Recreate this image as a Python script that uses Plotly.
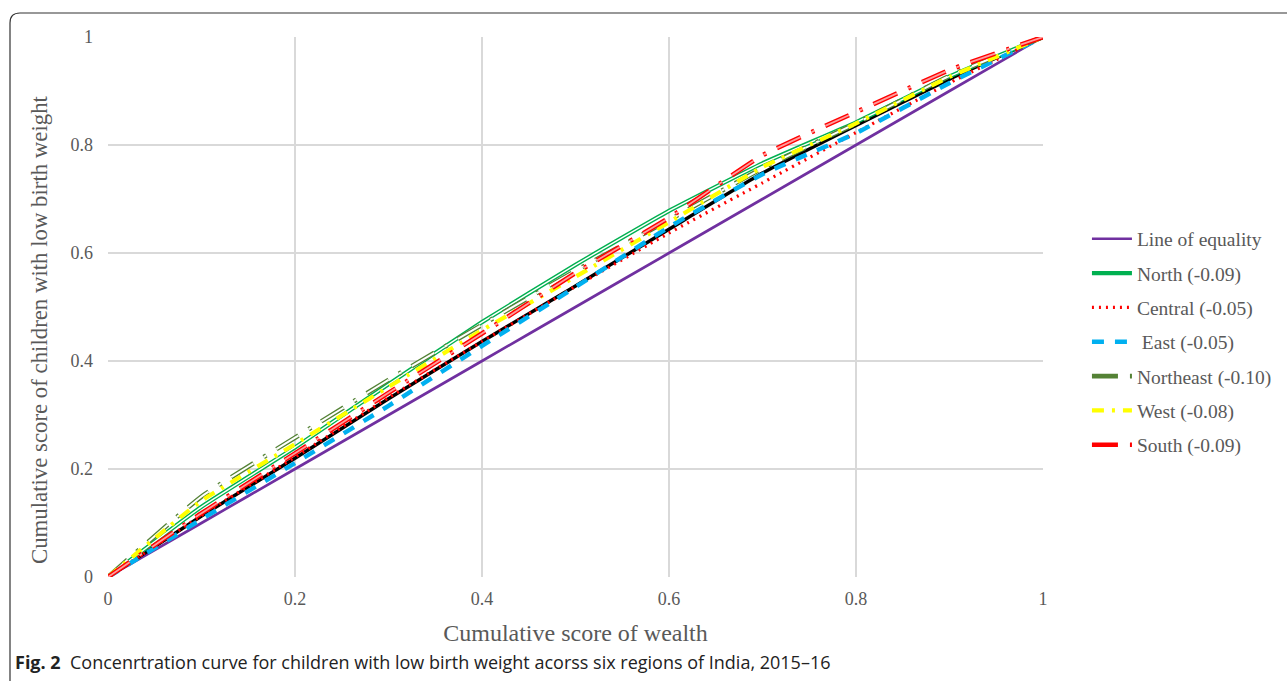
import plotly.graph_objects as go

# ---------------- data ----------------
wealth = [0, 0.1, 0.2, 0.3, 0.4, 0.5, 0.6, 0.7, 0.8, 0.9, 1.0]
equality = [0, 0.1, 0.2, 0.3, 0.4, 0.5, 0.6, 0.7, 0.8, 0.9, 1.0]
north = [0, 0.130, 0.240, 0.357, 0.472, 0.578, 0.678, 0.766, 0.842, 0.927, 1]
central = [0, 0.114, 0.222, 0.332, 0.436, 0.538, 0.637, 0.730, 0.823, 0.915, 1]
east = [0, 0.107, 0.211, 0.317, 0.428, 0.537, 0.648, 0.746, 0.822, 0.915, 1]
northeast = [0, 0.149, 0.258, 0.365, 0.467, 0.567, 0.661, 0.757, 0.840, 0.928, 1]
west = [0, 0.141, 0.246, 0.352, 0.457, 0.556, 0.657, 0.759, 0.840, 0.926, 1]
south = [0, 0.118, 0.229, 0.341, 0.451, 0.563, 0.665, 0.781, 0.861, 0.939, 1]
india = [0, 0.113, 0.220, 0.330, 0.436, 0.539, 0.644, 0.748, 0.836, 0.922, 1]

tick_vals = [0, 0.2, 0.4, 0.6, 0.8, 1]
tick_text = ["0", "0.2", "0.4", "0.6", "0.8", "1"]

names = {
    "eq": "Line of equality",
    "north": "North (-0.09)",
    "central": "Central (-0.05)",
    "east": " East (-0.05)",
    "ne": "Northeast (-0.10)",
    "west": "West (-0.08)",
    "south": "South (-0.09)",
}

SERIF = "Liberation Serif, Times New Roman, serif"
GREY = "#595959"

fig = go.Figure()

def add(y, name, color, width, dash="solid", show=True, group=None):
    fig.add_trace(go.Scatter(
        x=wealth, y=y, mode="lines", name=name, showlegend=show,
        legendgroup=group or name,
        line=dict(color=color, width=width, dash=dash, shape="spline", smoothing=0.4),
        hoverinfo="skip",
    ))

# equality
add(equality, names["eq"], "#7030A0", 2.6, show=True)
# overall (black, not in legend)
add(india, "India", "#000000", 3.5, show=False)
# North (double green)
add(north, names["north"], "#00B050", 4.2, group="north")
add(north, "n_in", "#FFFFFF", 1.4, show=False, group="north")
# Central dotted red
add(central, names["central"], "#FF0000", 3.2, dash="2px,5px")
# East dashed blue
add(east, names["east"], "#00B0F0", 4.5, dash="12px,11px")
# Northeast hollow long dash dot
ne_dash = "26px,12px,3px,12px"
add(northeast, names["ne"], "#548235", 4.6, dash=ne_dash, group="ne")
add(northeast, "ne_in", "#FFFFFF", 2.0, dash=ne_dash, show=False, group="ne")
# West yellow dash dot
add(west, names["west"], "#FFFF00", 4.2, dash="12px,8px,3px,8px")
# South red hollow long dash dot
s_dash = "26px,12px,3px,12px"
add(south, names["south"], "#FF0000", 4.6, dash=s_dash, group="south")
add(south, "s_in", "#FF9C9C", 1.8, dash=s_dash, show=False, group="south")

axis_common = dict(
    range=[0, 1], tickvals=tick_vals, ticktext=tick_text,
    showgrid=True, gridcolor="#D9D9D9", gridwidth=1.5,
    zeroline=False, showline=False, ticks="",
    tickfont=dict(family=SERIF, size=18, color=GREY),
    fixedrange=True,
)

fig.update_xaxes(**axis_common, ticklabelstandoff=9,
                 title=dict(text="Cumulative score of wealth",
                            font=dict(family=SERIF, size=24, color=GREY), standoff=16))
fig.update_yaxes(**axis_common, ticklabelstandoff=14)

fig.update_layout(
    width=1287, height=681,
    margin=dict(l=108, r=244, t=37, b=104, autoexpand=False),
    paper_bgcolor="white", plot_bgcolor="white",
    legend=dict(
        x=1.047, y=0.662, xanchor="left", yanchor="top",
        font=dict(family=SERIF, size=19.5, color=GREY),
        tracegroupgap=6, itemwidth=40, bgcolor="rgba(0,0,0,0)",
    ),
    showlegend=True,
)

# rounded frame (paper coordinates derived from pixel positions)
def px2x(px):
    return (px - 108) / 935

def py2y(py):
    return (577 - py) / 540

path = (f"M {px2x(10)},{py2y(700)} L {px2x(10)},{py2y(23)} "
        f"Q {px2x(10)},{py2y(13)} {px2x(20)},{py2y(13)} L {px2x(1300)},{py2y(13)}")
fig.add_shape(type="path", path=path, xref="paper", yref="paper",
              line=dict(color="#333333", width=1.2), layer="above")

# y-axis title as annotation (positioned like the reference)
fig.add_annotation(
    text="Cumulative score of children with low birth weight",
    xref="paper", yref="paper", x=px2x(40), y=py2y(330), textangle=-90,
    xanchor="center", yanchor="middle", showarrow=False,
    font=dict(family=SERIF, size=22.8, color=GREY),
)

fig.add_annotation(
    text="<b>Fig. 2</b>  Concenrtration curve for children with low birth weight acorss six regions of India, 2015–16",
    xref="paper", yref="paper", x=px2x(13), y=py2y(662), xanchor="left", yanchor="middle",
    showarrow=False, font=dict(family="Open Sans, sans-serif", size=18, color="#222222"),
)

fig.write_html("out.html", config={"displayModeBar": False},
               post_script="document.body.style.margin='0';document.body.style.overflow='hidden';")
